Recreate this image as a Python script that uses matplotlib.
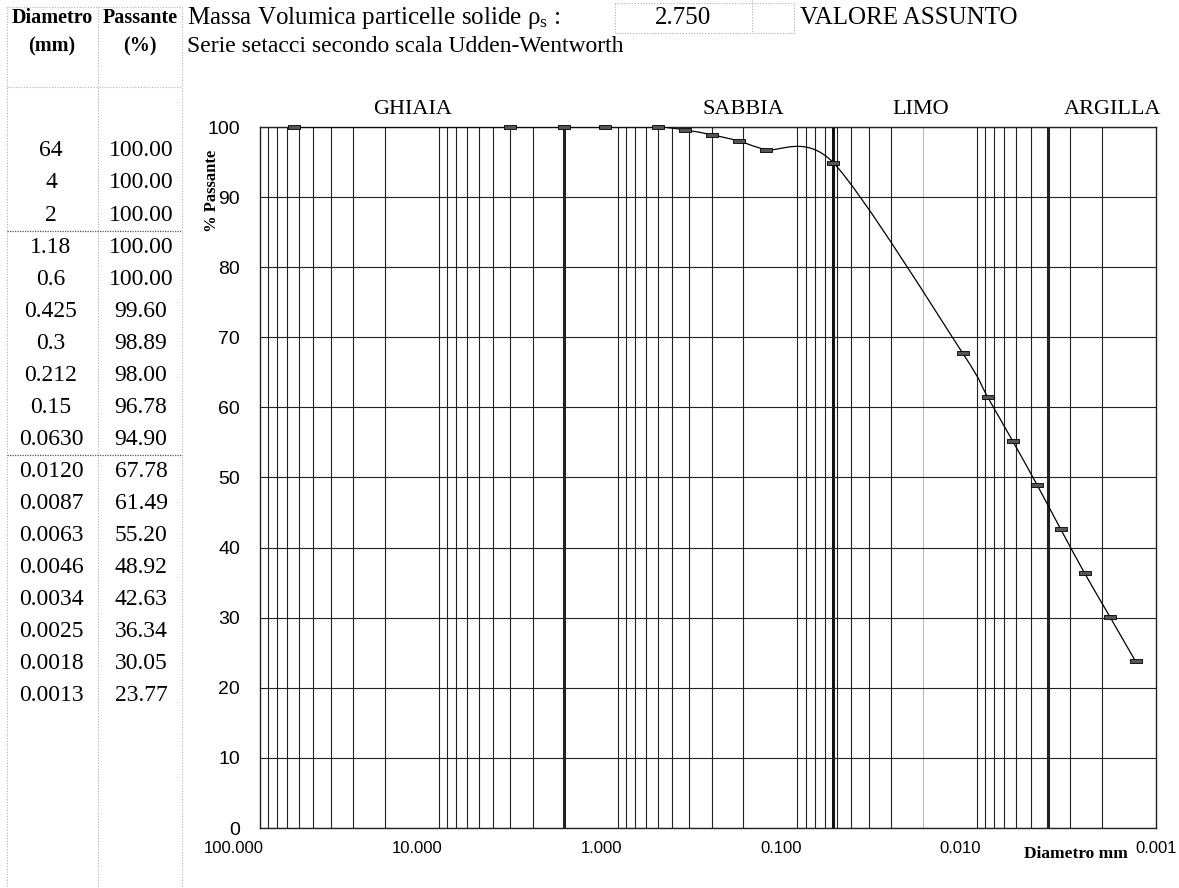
import numpy as np
import matplotlib
matplotlib.use("Agg")
import matplotlib.pyplot as plt
from matplotlib.path import Path
from matplotlib.patches import PathPatch, Rectangle
from matplotlib.ticker import NullLocator
import matplotlib.transforms as mtrans

plt.rcParams["mathtext.fontset"] = "custom"
plt.rcParams["mathtext.rm"] = "Liberation Serif"
plt.rcParams["mathtext.it"] = "Liberation Serif:italic"
SERIF = "Liberation Serif"; SANS = "Liberation Sans"

# ---- data ----
diam_txt = ["64", "4", "2", "1.18", "0.6", "0.425", "0.3", "0.212", "0.15", "0.0630",
            "0.0120", "0.0087", "0.0063", "0.0046", "0.0034", "0.0025", "0.0018", "0.0013"]
diam_mm = [float(s) for s in diam_txt]
passante = [100.00, 100.00, 100.00, 100.00, 100.00, 99.60, 98.89, 98.00, 96.78, 94.90,
            67.78, 61.49, 55.20, 48.92, 42.63, 36.34, 30.05, 23.77]
pass_txt = [f"{v:.2f}" for v in passante]
groups = ["GHIAIA", "SABBIA", "LIMO", "ARGILLA"]
group_x = [14.0, 0.2, 0.0205, 0.00175]         # where the class names sit (mm)
limits = [2.0, 0.063, 0.004]                     # Udden-Wentworth class limits (mm)
xtick_vals = [100, 10, 1, 0.1, 0.01, 0.001]
xtick_lbl = ["100.000", "10.000", "1.000", "0.100", "0.010", "0.001"]
rho_s = "2.750"

W, H = 1179, 888
fig = plt.figure(figsize=(W/100, H/100), dpi=100)
fig.patch.set_facecolor("white")

# ---- chart ----
x0, x1, ytop, ybot = 259.5, 1156, 127, 828
ax = fig.add_axes([x0/W, 1-ybot/H, (x1-x0)/W, (ybot-ytop)/H])
ax.set_xscale("log")
ax.set_xlim(100, 0.001); ax.set_ylim(0, 100)
ax.xaxis.set_minor_locator(NullLocator())
ax.set_xticks(xtick_vals, xtick_lbl)
ax.set_yticks(range(0, 101, 10))
ax.tick_params(axis="y", length=0, pad=14, labelsize=14)
ax.tick_params(axis="x", length=0, pad=9, labelsize=12)
for t in ax.get_yticklabels(): t.set_fontfamily(SANS)
shift = mtrans.ScaledTranslation(4/100, 0, fig.dpi_scale_trans)
for i, t in enumerate(ax.get_xticklabels()):
    t.set_fontfamily(SANS)
    if i < len(xtick_vals)-1:
        t.set_horizontalalignment("right")
        t.set_transform(t.get_transform() + shift)
ax.yaxis.grid(True, color="#222222", lw=0.8)
for n in range(-3, 2):
    for k in range(1, 10):
        v = k*10.0**n
        if 0.001 < v < 100:
            c = "#bbbbbb" if np.isclose(v, 0.02) else "#222222"
            lw = 2.2 if any(np.isclose(v, l) for l in limits) else 0.8
            ax.axvline(v, color=c, lw=lw, zorder=1)
ax.axvline(limits[1], color="#111111", lw=2.2, zorder=1)
for s in ax.spines.values(): s.set_color("#222222"); s.set_linewidth(1.0)

# smoothed line (Excel style Bezier through the points, in log-x space)
P = np.column_stack([np.log10(diam_mm), passante])
verts = [P[0]]; codes = [Path.MOVETO]
for i in range(len(P)-1):
    pa = P[i-1] if i > 0 else P[i]
    pb = P[i+2] if i+2 < len(P) else P[i+1]
    verts += [P[i] + (P[i+1]-pa)/7, P[i+1] - (pb-P[i])/7, P[i+1]]
    codes += [Path.CURVE4]*3
verts = np.array(verts); verts[:, 0] = 10**verts[:, 0]
ax.add_patch(PathPatch(Path(verts, codes), fill=False, ec="black", lw=0.9, zorder=3))
mk = [(-1, -0.35), (1, -0.35), (1, 0.35), (-1, 0.35), (-1, -0.35)]
ax.plot(diam_mm, passante, ls="none", marker=mk, ms=8, mfc="#555555", mec="black",
        mew=0.6, zorder=4, clip_on=False)

tr = mtrans.blended_transform_factory(ax.transData, ax.transAxes)
for g, gx in zip(groups, group_x):
    ax.text(gx, 1+17/700, g, transform=tr, ha="center", va="center",
            family=SERIF, fontsize=16)

# ---- overlay in pixel coordinates: spreadsheet table and texts ----
ov = fig.add_axes([0, 0, 1, 1], zorder=5)
ov.set_xlim(0, W); ov.set_ylim(H, 0); ov.axis("off")
ov.patch.set_alpha(0)

grid_kw = dict(color="#b0b0b0", lw=0.8, ls=(0, (1, 1.5)))
for xv in (7, 98, 182):
    ov.plot([xv, xv], [7, H], **grid_kw)
for yv in (7, 87):
    ov.plot([7, 182], [yv, yv], **grid_kw)
for yv in (231, 455):
    ov.plot([7, 182], [yv, yv], color="#555555", lw=0.9, ls=(0, (1, 1)))

hdr = dict(family=SERIF, fontsize=14.5, fontweight="bold", ha="center", va="center")
ov.text(52, 18, "Diametro", **hdr); ov.text(140, 18, "Passante", **hdr)
ov.text(52, 46, "(mm)", **hdr); ov.text(140, 46, "(%)", **hdr)
for i, (d, p) in enumerate(zip(diam_txt, pass_txt)):
    yy = 151 + 32*i
    ov.text(51, yy, d, family=SERIF, fontsize=17, ha="center", va="center")
    ov.text(141, yy, p, family=SERIF, fontsize=17, ha="center", va="center")

ov.text(187, 18, r"Massa Volumica particelle solide ρ$_\mathrm{s}$ :", family=SERIF,
        fontsize=18, ha="left", va="center")
ov.text(187, 46, "Serie setacci secondo scala Udden-Wentworth", family=SERIF,
        fontsize=17, ha="left", va="center")
ov.add_patch(Rectangle((615, 3), 179, 30, fill=False, **grid_kw))
ov.plot([752, 752], [0, 33], **grid_kw)
ov.text(683, 18, rho_s, family=SERIF, fontsize=18, ha="center", va="center")
ov.text(800, 18, "VALORE ASSUNTO", family=SERIF, fontsize=18, ha="left", va="center")

ov.text(212, 191, "% Passante", family=SERIF, fontsize=12, fontweight="bold",
        rotation=90, ha="center", va="center")
ov.text(1076, 854, "Diametro mm", family=SERIF, fontsize=12.5, fontweight="bold",
        ha="center", va="center")

fig.savefig("out.png", dpi=100)
